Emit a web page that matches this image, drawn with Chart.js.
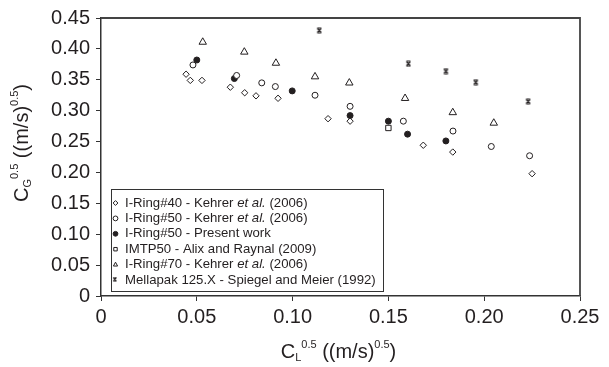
<!DOCTYPE html>
<html><head><meta charset="utf-8">
<script src="https://cdn.jsdelivr.net/npm/chart.js@4/dist/chart.umd.min.js"></script>
<style>html,body{margin:0;padding:0;background:#fff}</style>
</head><body>
<canvas id="c" width="609" height="367" style="width:609px;height:367px;display:block"></canvas>
<script>
// ---- data ----
const seriesLabels = [
  'I-Ring#40 - Kehrer et al. (2006)',
  'I-Ring#50 - Kehrer et al. (2006)',
  'I-Ring#50 - Present work',
  'IMTP50 - Alix and Raynal (2009)',
  'I-Ring#70 - Kehrer et al. (2006)',
  'Mellapak 125.X - Spiegel and Meier (1992)'
];
const ring40Kehrer = [[0.0444,0.359],[0.0466,0.349],[0.0527,0.349],[0.0675,0.338],[0.0750,0.329],[0.0809,0.324],[0.0924,0.320],[0.1185,0.287],[0.1300,0.283],[0.1682,0.244],[0.1836,0.233],[0.2250,0.198]];
const ring50Kehrer = [[0.0480,0.374],[0.0708,0.357],[0.0839,0.345],[0.0910,0.339],[0.1117,0.325],[0.1300,0.307],[0.1578,0.283],[0.1837,0.267],[0.2037,0.242],[0.2237,0.227]];
const ring50Present = [[0.0500,0.382],[0.0696,0.352],[0.0998,0.332],[0.1300,0.292],[0.1500,0.283],[0.1600,0.262],[0.1800,0.251]];
const imtp50Alix = [[0.1500,0.272]];
const ring70Kehrer = [[0.0531,0.411],[0.0748,0.395],[0.0913,0.377],[0.1117,0.355],[0.1296,0.345],[0.1587,0.320],[0.1836,0.297],[0.2050,0.280]];
const mellapakSpiegel = [[0.1139,0.430],[0.1604,0.376],[0.1800,0.364],[0.1956,0.346],[0.2229,0.315]];
const xTickLabels = ['0','0.05','0.10','0.15','0.20','0.25'];
const yTickLabels = ['0','0.05','0.10','0.15','0.20','0.25','0.30','0.35','0.40','0.45'];

// ---- styling ----
const FONT = '"Liberation Sans", Arial, Helvetica, sans-serif';
const INK = '#231f20';

function makeCrossMark() {
  const c = document.createElement('canvas');
  c.width = 7; c.height = 7;
  const g = c.getContext('2d');
  g.strokeStyle = INK; g.lineWidth = 1.2;
  g.beginPath();
  g.moveTo(1.5,1.5); g.lineTo(5.5,5.5);
  g.moveTo(5.5,1.5); g.lineTo(1.5,5.5);
  g.moveTo(1.5,1); g.lineTo(5.5,1);
  g.moveTo(1.5,6); g.lineTo(5.5,6);
  g.stroke();
  return c;
}
const crossMark = makeCrossMark();

const toPts = a => a.map(p => ({x: p[0], y: p[1]}));
const styles = [
  {pointStyle:'rectRot', pointRadius:3.2, backgroundColor:'#fff'},
  {pointStyle:'circle', pointRadius:3, backgroundColor:'#fff'},
  {pointStyle:'circle', pointRadius:3, backgroundColor:INK},
  {pointStyle:'rect', pointRadius:3.8, backgroundColor:'#fff'},
  {pointStyle:'triangle', pointRadius:4.3, backgroundColor:'#fff'},
  {pointStyle:crossMark, pointRadius:4, backgroundColor:'#fff'}
];
const allSeries = [ring40Kehrer, ring50Kehrer, ring50Present, imtp50Alix, ring70Kehrer, mellapakSpiegel];
const datasets = allSeries.map((s, i) => Object.assign({
  label: seriesLabels[i],
  data: toPts(s),
  borderColor: INK,
  borderWidth: 1,
  pointBorderWidth: 1,
  showLine: false
}, styles[i]));

function drawMarker(ctx, st, x, y, r) {
  ctx.save();
  ctx.fillStyle = st.backgroundColor; ctx.strokeStyle = INK; ctx.lineWidth = 1;
  const ps = st.pointStyle;
  if (ps instanceof HTMLCanvasElement) {
    ctx.drawImage(ps, x - ps.width/2, y - ps.height/2, ps.width*0.8, ps.height*0.8);
    ctx.restore(); return;
  }
  ctx.beginPath();
  if (ps === 'circle') ctx.arc(x, y, r, 0, Math.PI*2);
  else if (ps === 'rectRot') { ctx.moveTo(x, y-r); ctx.lineTo(x+r, y); ctx.lineTo(x, y+r); ctx.lineTo(x-r, y); ctx.closePath(); }
  else if (ps === 'rect') { const s = r*0.72; ctx.rect(x-s, y-s, 2*s, 2*s); }
  else if (ps === 'triangle') { ctx.moveTo(x, y-r); ctx.lineTo(x+r*0.87, y+r*0.6); ctx.lineTo(x-r*0.87, y+r*0.6); ctx.closePath(); }
  ctx.fill(); ctx.stroke();
  ctx.restore();
}

function drawRich(ctx, parts, x, y) {
  let w = 0;
  parts.forEach(p => { ctx.font = p[1] + 'px ' + FONT; w += ctx.measureText(p[0]).width; });
  let cx = x - w/2;
  parts.forEach(p => {
    ctx.font = p[1] + 'px ' + FONT;
    ctx.fillText(p[0], cx, y + p[2]);
    cx += ctx.measureText(p[0]).width;
  });
}

const decorPlugin = {
  id: 'decor',
  afterDraw(chart) {
    const ctx = chart.ctx, ca = chart.chartArea;
    ctx.save();
    ctx.strokeStyle = '#444'; ctx.lineWidth = 1.8;
    ctx.beginPath();
    ctx.moveTo(ca.left, ca.top); ctx.lineTo(ca.right, ca.top); ctx.lineTo(ca.right, ca.bottom);
    ctx.stroke();
    const bx = ca.left + 10, by = ca.top + 171, bw = 272, bh = 102;
    ctx.fillStyle = '#fff'; ctx.fillRect(bx, by, bw, bh);
    ctx.strokeStyle = '#333'; ctx.lineWidth = 1;
    ctx.strokeRect(bx + 0.5, by + 0.5, bw, bh);
    ctx.textBaseline = 'middle';
    seriesLabels.forEach((lab, i) => {
      const y = by + 14 + i * 15.4;
      drawMarker(ctx, styles[i], bx + 4.5, y, 2.4);
      ctx.fillStyle = INK;
      let tx = bx + 14;
      const segs = lab.split('et al.');
      segs.forEach((seg, k) => {
        ctx.font = '13.2px ' + FONT;
        ctx.fillText(seg, tx, y); tx += ctx.measureText(seg).width;
        if (k < segs.length - 1) {
          ctx.font = 'italic 13.2px ' + FONT;
          ctx.fillText('et al.', tx, y); tx += ctx.measureText('et al.').width;
        }
      });
    });
    ctx.fillStyle = INK;
    ctx.textBaseline = 'middle';
    drawRich(ctx, [['C',20,0],['L',11,6],['0.5',11,-7],[' ((m/s)',20,0],['0.5',11,-7],[')',20,0]], (ca.left+ca.right)/2 - 2, 352);
    ctx.translate(22, 143);
    ctx.rotate(-Math.PI/2);
    drawRich(ctx, [['C',20,0],['G',11,6],['0.5',11,-7],[' ((m/s)',20,0],['0.5',11,-7],[')',20,0]], 0, 0);
    ctx.restore();
  }
};

new Chart(document.getElementById('c'), {
  type: 'scatter',
  data: { datasets },
  options: {
    responsive: false,
    animation: false,
    devicePixelRatio: 1,
    layout: { padding: { left: 0, right: 29, top: 14, bottom: 0 } },
    plugins: { legend: { display: false }, tooltip: { enabled: false } },
    scales: {
      x: {
        type: 'linear', min: 0, max: 0.25,
        afterFit: s => { s.height = 71; },
        ticks: { stepSize: 0.05, padding: 4, color: INK, font: { family: FONT, size: 20 },
          callback: (v, i) => xTickLabels[i] },
        grid: { drawOnChartArea: false, drawTicks: true, tickLength: 5, color: '#333', lineWidth: 1 },
        border: { display: true, color: '#333', width: 1.5 }
      },
      y: {
        type: 'linear', min: 0, max: 0.45,
        afterFit: s => { s.width = 101; },
        ticks: { stepSize: 0.05, padding: 6, color: INK, font: { family: FONT, size: 20 },
          callback: (v, i) => yTickLabels[i] },
        grid: { drawOnChartArea: false, drawTicks: true, tickLength: 5, color: '#333', lineWidth: 1 },
        border: { display: true, color: '#333', width: 1.5 }
      }
    }
  },
  plugins: [decorPlugin]
});
</script>
</body></html>
